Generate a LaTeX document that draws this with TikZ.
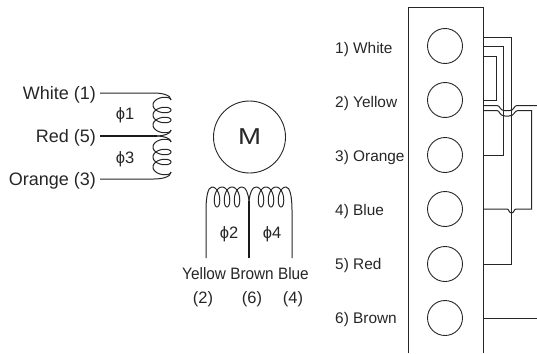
\documentclass[tikz,border=0pt]{standalone}
\usepackage{fontspec}
\setmainfont{Liberation Sans}
\tikzset{
  px/.style={x=1pt,y=-1pt},
  wire/.style={draw=black!85,line width=1pt},
  thickwire/.style={draw=black!90,line width=1.7pt},
  term/.style={circle,draw=black!85,line width=.9pt,minimum size=35pt,inner sep=0pt},
  lbl/.style={inner sep=0pt,text=black!85,font=\fontsize{16.5}{18}\selectfont},
  lbls/.style={lbl,font=\fontsize{18}{20}\selectfont},
  lbll/.style={lbl,anchor=west,font=\fontsize{15.4}{18}\selectfont},
  lblr/.style={lbls,anchor=east}
}
\newcommand{\squeeze}[1]{\scalebox{.93}[1]{#1}}
\begin{document}
\begin{tikzpicture}[px]
\useasboundingbox (0,0) rectangle (537,353);
% left windings
\node[lblr] (w1) at (96,95) {White (1)};
\node[lblr] (w5) at (96,138) {Red (5)};
\node[lblr] (w3) at (96,181) {Orange (3)};
\coordinate (c1s) at (171,100);
\coordinate (c1e) at (171,130);
\coordinate (c3s) at (171,142);
\coordinate (c3e) at (171,172);
\coordinate (mid) at (157,136);
\draw[wire] (w1.east)++(4,-2) -- (154,93) .. controls (162,93) and (171,95) .. (c1s);
\draw[wire,domain=0:1080,samples=160,smooth,variable=\t] plot ({162+9*cos(\t)},{100+\t/36-5*sin(\t)});
\draw[wire] (c1e) .. controls (171,134) and (163,136) .. (mid);
\draw[wire,domain=0:1080,samples=160,smooth,variable=\t] plot ({162+9*cos(\t)},{142+\t/36-5*sin(\t)});
\draw[wire] (mid) .. controls (163,136) and (171,138) .. (c3s);
\draw[wire] (c3e) .. controls (171,177) and (162,179) .. (154,179) -- ++(-54,0) coordinate (o3);
\draw[thickwire] (w5.east)++(4,-2) -- (mid);
\node[lbl] (p1) at (125,115.5) {ϕ1};
\node[lbl] (p3) at (125,159.5) {ϕ3};
% motor
\node[circle,draw=black!85,line width=.9pt,minimum size=72pt,inner sep=0pt,font=\fontsize{23}{25}\selectfont,text=black!85] (m) at (249.5,137) {\scalebox{1.2}[1]{M}};
% lower windings
\coordinate (yb) at (206,258);
\coordinate (bb) at (249,258);
\coordinate (lb) at (292,258);
\coordinate (v) at (249,201);
\draw[wire] (yb) -- (206,210) .. controls (206,197) and (208,187) .. (212,187);
\draw[wire,domain=0:1080,samples=160,smooth,variable=\t] plot ({212+\t/36+5*sin(\t)},{197-10*cos(\t)});
\draw[wire] (242,187) .. controls (246,187) and (248,193) .. (v);
\draw[wire] (v) .. controls (250,193) and (252,187) .. (256,187);
\draw[wire,domain=0:1080,samples=160,smooth,variable=\t] plot ({256+\t/36+5*sin(\t)},{197-10*cos(\t)});
\draw[wire] (286,187) .. controls (290,187) and (292,197) .. (292,210) -- (lb);
\draw[thickwire] (v) -- (bb);
\node[lbl] (p2) at (229,234) {ϕ2};
\node[lbl] (p4) at (272,234) {ϕ4};
\node[lbl] (names) at (245.5,274) {\squeeze{Yellow Brown Blue}};
\node[lbl] (n2) at (203,299) {(2)};
\node[lbl] (n6) at (252,299) {(6)};
\node[lbl] (n4) at (293,299) {(4)};
% terminal block
\draw[wire] (408,353) -- (408,8) -- (483,8) -- (483,353);
\foreach \i/\y/\ty/\t in {1/46/50/White,2/100/104/Yellow,3/155/158/Orange,4/209/212/Blue,5/264/266/Red,6/318/320/Brown}{
  \node[term] (t\i) at (445,\y) {};
  \node[lbll] (l\i) at (335,\ty) {\i) \t};
}
% wiring
\draw[wire] (483,38) -- (511.5,38) -- (511.5,264) -- (483,264);
\draw[wire] (483,46.5) -- (503,46.5) -- (503,155) -- (483,155);
\draw[wire] (483,56) -- (496,56) -- (496,100) -- (483,100);
\draw[wire] (483,105.5) -- (497,105.5) .. controls (500,105.5) and (500,110.5) .. (504,110.5) -- (510,110.5) .. controls (514,110.5) and (514,105.5) .. (517,105.5) -- (537,105.5);
\draw[wire] (483,110.5) -- (497,110.5) .. controls (500,110.5) and (499,116) .. (505,116) -- (509,116) .. controls (515,116) and (514,110.5) .. (518,110.5) -- (531.5,110.5) -- (531.5,209) -- (516,209) .. controls (514,209) and (514,213) .. (511.5,213) .. controls (509,213) and (509,209) .. (507,209) -- (483,209);
\draw[wire] (483,318) -- (537,318);
\end{tikzpicture}
\end{document}
